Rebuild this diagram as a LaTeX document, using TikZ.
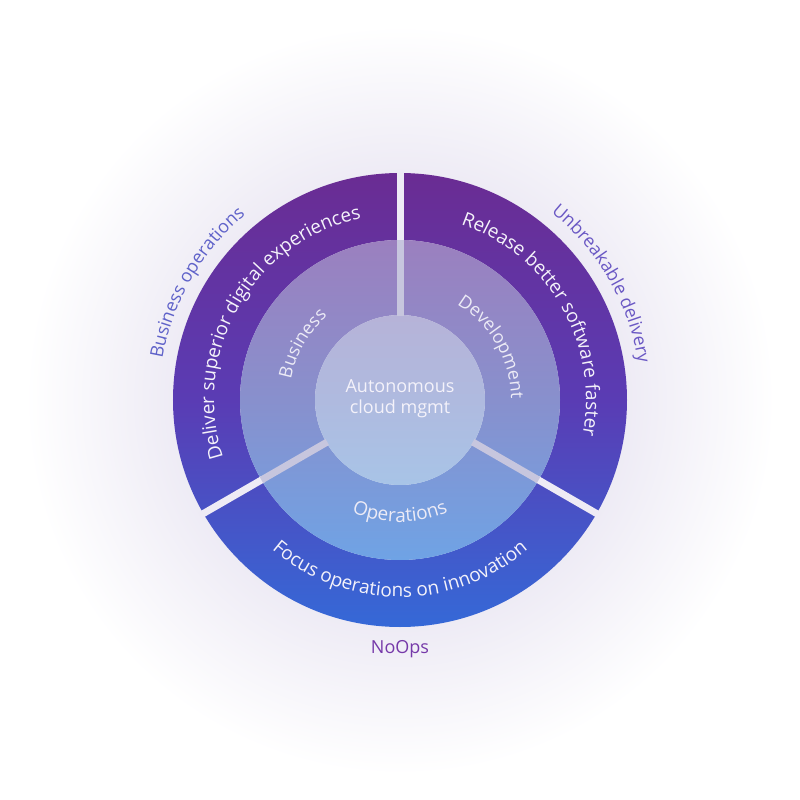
\documentclass[tikz,border=0pt]{standalone}
\usepackage{fontspec}
\setmainfont{Open Sans}
\usetikzlibrary{decorations.text}
\definecolor{glowc}{HTML}{ECE9F4}
\definecolor{outtop}{HTML}{6A2C93}
\definecolor{outmid}{HTML}{5A3CB4}
\definecolor{outbot}{HTML}{3569D7}
\definecolor{midtop}{HTML}{9B80BF}
\definecolor{midmid}{HTML}{8890CD}
\definecolor{midbot}{HTML}{6FA3E5}
\definecolor{hubtop}{HTML}{B6B3D8}
\definecolor{hubmid}{HTML}{AFBADF}
\definecolor{hubbot}{HTML}{A8C4E7}
\definecolor{gapout}{HTML}{EEEBF5}
\definecolor{gapin}{HTML}{C7C6DE}
\definecolor{ringtxt}{HTML}{F4F2FA}
\definecolor{midtxt}{HTML}{ECEBF6}
\definecolor{biztxt}{HTML}{5F62C9}
\definecolor{devtxt}{HTML}{6A58C4}
\definecolor{nooptxt}{HTML}{7639A9}
\pgfdeclareradialshading{glow}{\pgfpoint{0bp}{0bp}}{color(0bp)=(glowc); color(14bp)=(glowc); color(25bp)=(white); color(50bp)=(white)}
\newcommand\labelfont{\fontsize{18pt}{21pt}\selectfont}
\newcommand\bandfont{\fontsize{19pt}{22pt}\selectfont}

\begin{document}
\begin{tikzpicture}[
  curved/.style={decorate,decoration={text along path,text align=center,text color=#1}},
  gapline/.style={line width=7pt,draw=#1},
  ringfill/.style={even odd rule}
]
\useasboundingbox (-400pt,-400pt) rectangle (400pt,400pt);
\fill[white] (-400pt,-400pt) rectangle (400pt,400pt);
\shade[shading=glow] (0,0) circle[radius=375pt];
% rings
\shade[ringfill,top color=outtop,bottom color=outbot,middle color=outmid] (0,0) circle[radius=227pt] (0,0) circle[radius=160pt];
\shade[ringfill,top color=midtop,bottom color=midbot,middle color=midmid] (0,0) circle[radius=160pt] (0,0) circle[radius=85pt];
\shade[top color=hubtop,bottom color=hubbot,middle color=hubmid] (0,0) circle[radius=85pt];
\foreach \a in {90,210,330}{
  \draw[gapline=gapout] (\a:158pt) -- (\a:231pt);
  \draw[gapline=gapin] (\a:84pt) -- (\a:160pt);
}
% outer ring texts
\path[curved=ringtxt,decoration={text={|\bandfont|Deliver superior digital experiences}}]
  (205:186pt) arc[start angle=205,end angle=95,radius=186pt];
\path[curved=ringtxt,decoration={text={|\bandfont|Release better software faster}}]
  (85:186pt) arc[start angle=85,end angle=-25,radius=186pt];
\path[curved=ringtxt,decoration={text={|\bandfont|Focus operations on innovation}}]
  (215:197pt) arc[start angle=215,end angle=325,radius=197pt];
% middle ring texts
\path[curved=midtxt,decoration={text={|\labelfont|Business}}]
  (200:111pt) arc[start angle=200,end angle=100,radius=111pt];
\path[curved=midtxt,decoration={text={|\labelfont|Development}}]
  (85:111pt) arc[start angle=85,end angle=-25,radius=111pt];
\path[curved=midtxt,decoration={text={|\bandfont|Operations}}]
  (220:122pt) arc[start angle=220,end angle=320,radius=122pt];
% outside labels
\path[curved=biztxt,decoration={text={|\labelfont|Business operations}}]
  (195:241pt) arc[start angle=195,end angle=105,radius=241pt];
\path[curved=devtxt,decoration={text={|\labelfont|Unbreakable delivery}}]
  (75:241pt) arc[start angle=75,end angle=-15,radius=241pt];
\node[font=\labelfont,text=nooptxt,anchor=base] (noops) at (0,-253pt) {NoOps};
\node[font=\labelfont,text=ringtxt,align=center] (hub) at (0,1pt) {Autonomous\\cloud mgmt};
\end{tikzpicture}
\end{document}
